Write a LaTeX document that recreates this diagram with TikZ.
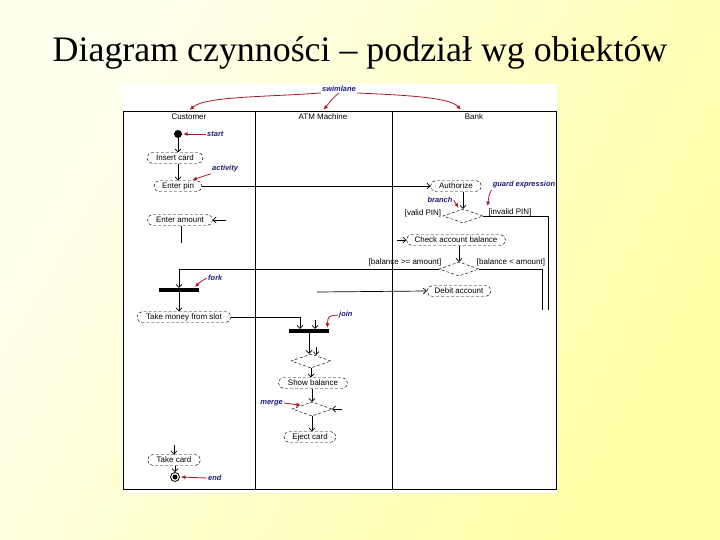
\documentclass[tikz,border=0pt]{standalone}
\usepackage{fontspec}
\setmainfont{Liberation Serif}
\newfontfamily\diagfont{Liberation Sans}
\usetikzlibrary{positioning, arrows.meta, shapes.misc, shapes.geometric}
\definecolor{bgpale}{RGB}{255,255,240}
\definecolor{bgyel}{RGB}{255,255,165}
\definecolor{noteblue}{RGB}{30,30,120}
\definecolor{notered}{RGB}{165,25,45}

\begin{document}
\begin{tikzpicture}[
  x=1bp, y=-1bp,
  font=\diagfont\fontsize{8}{9}\selectfont,
  lane/.style={line width=1bp},
  act/.style={draw, densely dashed, line width=0.45bp, rounded rectangle, minimum height=11bp, inner ysep=0pt, inner xsep=2bp},
  choice/.style={draw, densely dashed, line width=0.45bp, diamond, minimum width=40bp, minimum height=14bp, inner sep=0pt},
  bar/.style={fill=black, minimum width=40bp, minimum height=4bp, inner sep=0pt},
  flow/.style={-{Straight Barb[length=3bp,width=6bp]}, line width=0.7bp},
  line/.style={line width=0.7bp},
  guard/.style={inner sep=1bp},
  note/.style={font=\diagfont\fontsize{7.5}{8}\selectfont\bfseries\itshape, text=noteblue, inner sep=1bp},
  point/.style={-{Latex[length=4.5bp,width=4bp]}, draw=notered, line width=0.8bp, shorten >=1bp}
]

% --- Tlo i tytul ---
\shade[top color=bgpale, bottom color=bgyel, shading angle=60] (0,0) rectangle (720,540);
\node[font=\rmfamily\fontsize{36}{40}\selectfont, anchor=base] (title) at (360,62) {Diagram czynności – podział wg obiektów};
\fill[white] (122,84) rectangle (557,493);

% --- Tory (swimlanes) ---
\draw[lane] (123,112) rectangle (556,489);
\draw[lane] (255,112) -- (255,489);
\draw[lane] (392,112) -- (392,489);
\node (hcust) at (189,117) {Customer};
\node (hatm) at (323,117) {ATM Machine};
\node (hbank) at (474,117) {Bank};

% --- Klient ---
\node[circle, fill, inner sep=0pt, minimum size=8bp] (start) at (178,134) {};
\node[act, minimum width=60bp] (insert) at (175,158) {Insert card};
\node[act, minimum width=52bp] (pin) at (178,186) {Enter pin};
\node[act, minimum width=69bp] (amount) at (180,220) {Enter amount};
\node[bar] (fork) at (179,290) {};
\node[act, minimum width=98bp] (money) at (184,317) {Take money from slot};
\node[act, minimum width=57bp] (takecard) at (174,460) {Take card};
\node[circle, draw, line width=0.8bp, inner sep=0pt, minimum size=9bp] (finish) at (175,477) {};
\node[circle, fill, inner sep=0pt, minimum size=5bp] (finishdot) at (finish) {};

% --- Bankomat ---
\node[bar] (join) at (309,331) {};
\node[choice] (mrg1) at (311,361) {};
\node[act, minimum width=73bp] (show) at (313,383) {Show balance};
\node[choice] (mrg2) at (312,409) {};
\node[act, minimum width=56bp] (eject) at (310,437) {Eject card};

% --- Bank ---
\node[act, minimum width=55bp] (auth) at (456,186) {Authorize};
\node[choice] (br1) at (463,216) {};
\node[act, minimum width=103bp] (check) at (456,240) {Check account balance};
\node[choice] (br2) at (459,269) {};
\node[act, minimum width=68bp] (debit) at (459,291) {Debit account};

% --- Warunki ---
\node[guard] (valid) at (423,213) {[valid PIN]};
\node[guard] (invalid) at (510,212) {[invalid PIN]};
\node[guard] (enough) at (405,262) {[balance >= amount]};
\node[guard] (short) at (511,262) {[balance < amount]};

% --- Wolne konce ---
\coordinate (amtin) at (226,220);
\coordinate (amtout) at (181,243);
\coordinate (chkin) at (397,240);
\coordinate (debin) at (317,292);
\coordinate (joinin) at (315,320);
\coordinate (mrgin) at (316,347);
\coordinate (mrgin2) at (342,409);
\coordinate (tcin) at (174,445);
\coordinate (invend) at (548,310);
\coordinate (lowend) at (542,310);

% --- Przejscia ---
\draw[flow] (start.south) -- (start.south |- insert.north);
\draw[flow] (insert.south -| start) -- (pin.north -| start);
\draw[flow] (pin.east) -- (auth.west);
\draw[flow] (amtin) -- (amount.east);
\draw[line] (amount.south -| amtout) -- (amtout);
\draw[flow] (auth.south -| br1.north) -- (br1.north);
\draw[line] (br1.east) -| (invend);
\draw[flow] (chkin) -- (check.west);
\draw[flow] (check.south -| br2.north) -- (br2.north);
\draw[flow] (br2.west) -| (fork.north);
\draw[line] (br2.east) -| (lowend);
\draw[flow] (debin) -- (debit.west);
\draw[flow] (fork.south) -- (fork.south |- money.north);
\draw[flow] (money.east) -| ([xshift=-9bp]join.north);
\draw[flow] (joinin) -- (joinin |- join.north);
\draw[flow] (join.south) -- (join.south |- mrg1.north);
\draw[flow] (mrgin) -- ++(0,8);
\draw[flow] (mrg1.south) -- (mrg1.south |- show.north);
\draw[flow] (show.south -| mrg2.north) -- (mrg2.north);
\draw[flow] (mrgin2) -- (mrg2.east);
\draw[flow] (mrg2.south) -- (mrg2.south |- eject.north);
\draw[flow] (tcin) -- (takecard.north);
\draw[flow] (takecard.south -| finish) -- (finish.north);

% --- Objasnienia ---
\node[note] (swim) at (339,89) {swimlane};
\draw[point] (swim.south west) .. controls (270,97) and (205,96) .. (hcust.north);
\draw[point] (swim.south) .. controls (333,98) .. (hatm.north);
\draw[point] (swim.south east) .. controls (400,95) and (450,97) .. (hbank.north west);
\node[note, anchor=west] (lstart) at (206,134) {start};
\draw[point] (lstart.west) -- (start.east);
\node[note, anchor=west] (lact) at (211,169) {activity};
\draw[point] (lact.south west) -- ([xshift=-5bp]pin.north east);
\node[note] (lguard) at (524,185) {guard expression};
\draw[point] (lguard.south west) .. controls (489,195) .. (invalid.north west);
\node[note] (lbr) at (440,200) {branch};
\draw[point] (lbr.east) .. controls (455,202) .. ([xshift=-4bp]br1.north);
\node[note, anchor=west] (lfork) at (207,278) {fork};
\draw[point] (lfork.west) .. controls (200,282) .. ([xshift=-5bp]fork.north east);
\node[note, anchor=west] (ljoin) at (338,315) {join};
\draw[point] (ljoin.west) .. controls (328,316) .. ([xshift=-2bp]join.north east);
\node[note, anchor=east] (lmerge) at (284,403) {merge};
\draw[point] (lmerge.east) -- (mrg2.north west);
\node[note, anchor=west] (lend) at (207,478) {end};
\draw[point] (lend.west) -- (finish.east);

\end{tikzpicture}
\end{document}
